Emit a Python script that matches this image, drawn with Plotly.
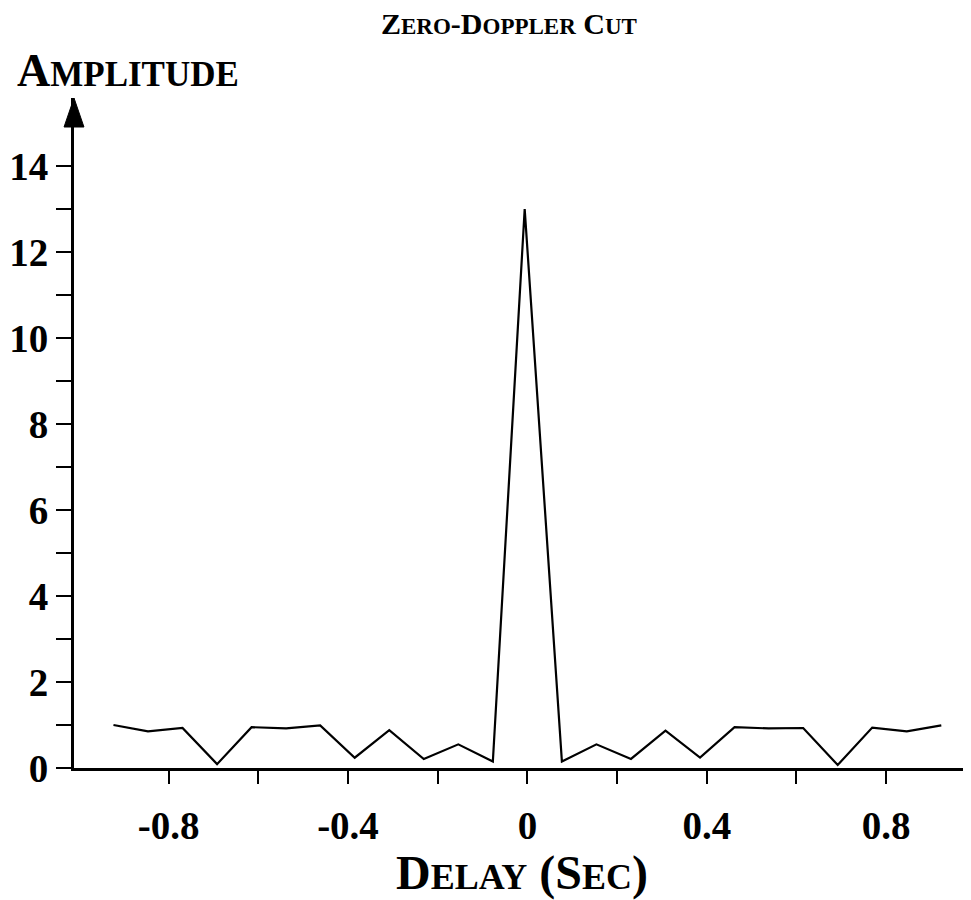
import plotly.graph_objects as go

delay = [-0.923, -0.846, -0.769, -0.692, -0.615, -0.538, -0.462, -0.385, -0.308, -0.231, -0.154, -0.077,
         -0.006,
         0.077, 0.154, 0.231, 0.308, 0.385, 0.462, 0.538, 0.615, 0.692, 0.769, 0.846, 0.923]
amplitude = [1.0, 0.85, 0.93, 0.09, 0.95, 0.92, 0.99, 0.24, 0.88, 0.21, 0.55, 0.15,
             13.0,
             0.15, 0.55, 0.21, 0.87, 0.24, 0.95, 0.92, 0.93, 0.07, 0.94, 0.85, 0.99]

x_major = [-0.8, -0.4, 0, 0.4, 0.8]
x_labels = ["-0.8", "-0.4", "0", "0.4", "0.8"]
x_minor = [-0.6, -0.2, 0.2, 0.6]
y_major = [0, 2, 4, 6, 8, 10, 12, 14]
y_minor = [1, 3, 5, 7, 9, 11, 13]

FONT = "Liberation Serif"

fig = go.Figure()
fig.add_trace(go.Scatter(x=delay, y=amplitude, mode="lines",
                         line=dict(color="black", width=2.2), hoverinfo="skip",
                         showlegend=False))

fig.update_layout(
    width=963, height=892,
    paper_bgcolor="white", plot_bgcolor="white",
    margin=dict(l=63, r=1, t=90, b=132),
    font=dict(family=FONT, color="black"),
    xaxis=dict(
        range=[-1.011, 0.987], showgrid=False, zeroline=False,
        showline=True, linecolor="black", linewidth=3,
        tickmode="array", tickvals=x_major, ticktext=x_labels,
        ticks="outside", ticklen=13, tickwidth=2, tickcolor="black",
        tickfont=dict(family=FONT, size=39, color="black", weight="bold"),
        ticklabelstandoff=8,
        minor=dict(tickmode="array", tickvals=x_minor, ticks="outside", ticklen=13,
                   tickwidth=2, tickcolor="black"),
        title=dict(text="<b>D<span style='font-size:36px'>ELAY</span> (S<span style='font-size:36px'>EC</span>)</b>",
                   font=dict(family=FONT, size=48, color="black"), standoff=12),
    ),
    yaxis=dict(
        range=[0, 15.58], showgrid=False, zeroline=False,
        showline=True, linecolor="black", linewidth=3,
        tickmode="array", tickvals=y_major,
        ticks="outside", ticklen=15, tickwidth=2, tickcolor="black",
        tickfont=dict(family=FONT, size=39, color="black", weight="bold"),
        ticklabelstandoff=0,
        minor=dict(tickmode="array", tickvals=y_minor, ticks="outside", ticklen=15,
                   tickwidth=2, tickcolor="black"),
    ),
    shapes=[dict(type="path", xref="paper", yref="paper",
                 path="M -0.0111,0.9567 L 0,1 L 0.0111,0.9567 Z",
                 fillcolor="black", line=dict(color="black", width=1))],
    annotations=[
        dict(text="<b>A<span style='font-size:35px'>MPLITUDE</span></b>", xref="paper", yref="paper",
             x=-0.0656, y=1.0403, xanchor="left", yanchor="middle", showarrow=False,
             font=dict(family=FONT, size=46, color="black")),
        dict(text="<b>Z<span style='font-size:23px'>ERO</span>-D<span style='font-size:23px'>OPPLER</span> C<span style='font-size:23px'>UT</span></b>",
             xref="paper", yref="paper", x=0.486, y=1.1105, xanchor="center", yanchor="middle",
             showarrow=False, font=dict(family=FONT, size=30, color="black")),
    ],
)

fig.write_html("out.html")
